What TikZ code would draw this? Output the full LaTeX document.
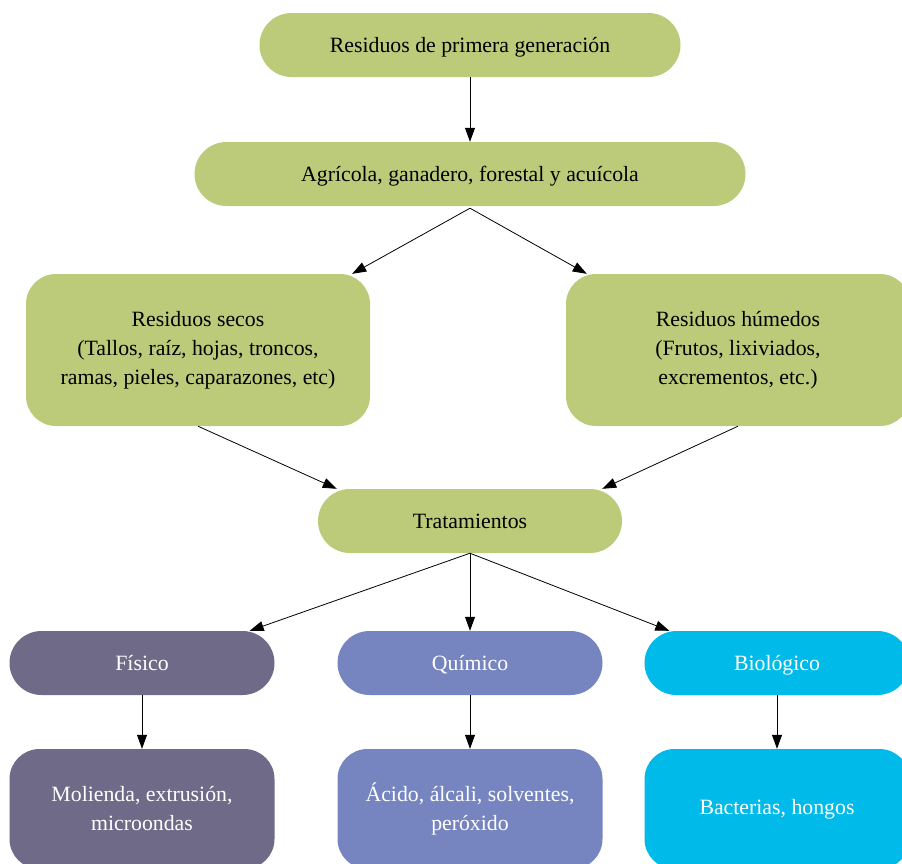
\documentclass[tikz,border=0pt]{standalone}
\usepackage{fontspec}
\setmainfont{Liberation Serif}
\usetikzlibrary{arrows.meta}
\definecolor{cgreen}{RGB}{188,203,122}
\definecolor{cfis}{RGB}{110,106,135}
\definecolor{cqui}{RGB}{118,133,191}
\definecolor{cbio}{RGB}{0,187,234}
\tikzset{
  box/.style={rectangle, rounded corners=#1, inner sep=0pt, align=center,
    font=\fontsize{21.8}{29}\selectfont},
  pill/.style={box=32pt, minimum height=64pt, text height=18pt, text depth=4pt},
  greenbox/.style={fill=cgreen, text=black},
  conn/.style={-{Triangle[length=14pt,width=10pt]}, line width=0.8pt}
}
\begin{document}
\begin{tikzpicture}[x=1pt,y=-1pt]
\useasboundingbox (0,0) rectangle (902,863);
\clip (0,0) rectangle (902,863);
\node[pill, greenbox, minimum width=421pt] (n1) at (470,45) {Residuos de primera generación};
\node[pill, greenbox, minimum width=551pt] (n2) at (470,174) {Agrícola, ganadero, forestal y acuícola};
\node[box=30pt, greenbox, minimum width=344pt, minimum height=152pt] (n3) at (198,350)
  {Residuos secos\\(Tallos, raíz, hojas, troncos,\\ramas, pieles, caparazones, etc)};
\node[box=30pt, greenbox, minimum width=344pt, minimum height=152pt] (n4) at (738,350)
  {Residuos húmedos\\(Frutos, lixiviados,\\excrementos, etc.)};
\node[pill, greenbox, minimum width=304pt] (n5) at (470,521) {Tratamientos};
\node[pill, fill=cfis, text=white, minimum width=265pt] (fis) at (142,663) {Físico};
\node[pill, fill=cqui, text=white, minimum width=265pt] (qui) at (470,663) {Químico};
\node[pill, fill=cbio, text=white, minimum width=265pt] (bio) at (777,663) {Biológico};
\node[box=30pt, fill=cfis, text=white, minimum width=265pt, minimum height=120pt] (fis2) at (142,809)
  {Molienda, extrusión,\\microondas};
\node[box=30pt, fill=cqui, text=white, minimum width=265pt, minimum height=120pt] (qui2) at (470,809)
  {Ácido, álcali, solventes,\\peróxido};
\node[box=30pt, fill=cbio, text=white, minimum width=265pt, minimum height=120pt] (bio2) at (777,809)
  {Bacterias, hongos};
\draw[conn] (n1.south) -- (n2.north);
\draw[conn] ([yshift=-2pt]n2.south) -- ([xshift=-18pt]n3.north east);
\draw[conn] ([yshift=-2pt]n2.south) -- ([xshift=21pt]n4.north west);
\draw[conn] (n3.south) -- ([xshift=19pt]n5.north west);
\draw[conn] (n4.south) -- ([xshift=-20pt]n5.north east);
\draw[conn] (n5.south) -- ([xshift=-25pt]fis.north east);
\draw[conn] (n5.south) -- (qui.north);
\draw[conn] (n5.south) -- ([xshift=25pt]bio.north west);
\draw[conn] (fis.south) -- (fis2.north);
\draw[conn] (qui.south) -- (qui2.north);
\draw[conn] (bio.south) -- (bio2.north);
\end{tikzpicture}
\end{document}
